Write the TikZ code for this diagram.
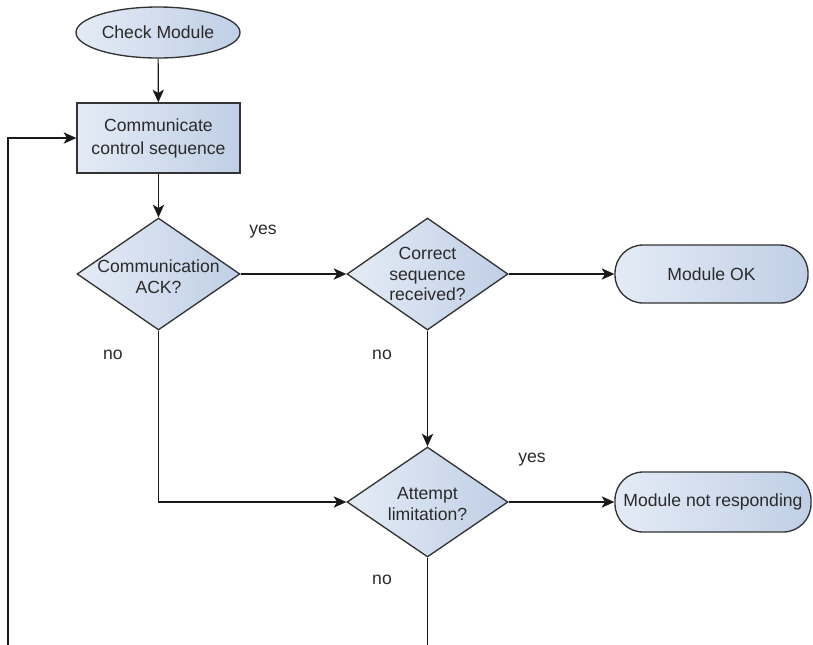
\documentclass[tikz,border=0pt]{standalone}
\usepackage{fontspec}
\setmainfont{Liberation Sans}
\usetikzlibrary{shapes.geometric,arrows.meta}
\definecolor{shapeL}{HTML}{E4EBF6}
\definecolor{shapeR}{HTML}{C0CFE6}
\definecolor{edge}{HTML}{333333}
\definecolor{ink}{HTML}{2A2A2A}
\tikzset{
  flowtext/.style={text=ink, font=\fontsize{13.2pt}{15.5pt}\selectfont, align=center},
  shapebase/.style={draw=edge, line width=1pt, left color=shapeL, right color=shapeR, inner sep=0pt},
  terminal/.style={shapebase, ellipse},
  process/.style={shapebase, rectangle},
  decision/.style={shapebase, diamond},
  endstate/.style={shapebase, rectangle, rounded corners=21pt},
  flow/.style={draw=black!90, line width=0.9pt, -{Stealth[length=9.5pt,width=8.5pt,inset=2.5pt]}},
  wire/.style={draw=black!90, line width=0.9pt},
  answer/.style={text=ink, font=\fontsize{13.2pt}{15.5pt}\selectfont}
}
\begin{document}
\begin{tikzpicture}[x=0.75pt,y=-0.75pt]
\useasboundingbox (0,0) rectangle (813,644);

% shapes
\node[terminal, minimum width=123pt, minimum height=38.25pt] (start) at (158,32.5) {};
\node[flowtext] (startT) at (start) {Check Module};

\node[process, minimum width=122.25pt, minimum height=52.5pt] (comm) at (158.5,138) {};
\node[flowtext, font=\fontsize{13.2pt}{17.25pt}\selectfont] (commT) at (comm) {Communicate\\control sequence};

\node[decision, minimum width=122.25pt, minimum height=84pt] (ack) at (158.5,274) {};
\node[flowtext] (ackT) at (158.5,277) {Communication\\ACK?};

\node[decision, minimum width=120.75pt, minimum height=84pt] (seq) at (427.5,274) {};
\node[flowtext] (seqT) at (427.5,274) {Correct\\sequence\\received?};

\node[endstate, minimum width=144.75pt, minimum height=43.5pt] (ok) at (711.5,274) {};
\node[flowtext] (okT) at (ok) {Module OK};

\node[decision, minimum width=120.75pt, minimum height=82.5pt] (att) at (427.5,502) {};
\node[flowtext] (attT) at (427.5,504) {Attempt\\limitation?};

\node[endstate, minimum width=147pt, minimum height=45pt] (nr) at (713,502) {};
\node[flowtext] (nrT) at (nr) {Module not responding};

% loop corners, below the lower edge
\coordinate (loopB) at (427.5,665);
\coordinate (loopL) at (8,665);

% connectors
\draw[flow] (start) -- (comm);
\draw[flow] (comm) -- (ack);
\draw[flow] (ack.east) -- (seq.west);
\draw[flow] (seq.east) -- (ok.west);
\draw[flow] (seq.south) -- (att.north);
\draw[flow] (ack.south) |- (att.west);
\draw[flow] (att.east) -- (nr.west);
\draw[wire] (att.south) -- (loopB) -- (loopL);
\draw[flow] (loopL) |- (comm.west);

% branch labels
\node[answer] (y1) at (263,232) {yes};
\node[answer] (n1) at (113,355) {no};
\node[answer] (n2) at (382,355) {no};
\node[answer] (y2) at (532,460) {yes};
\node[answer] (n3) at (382,580) {no};
\end{tikzpicture}
\end{document}
